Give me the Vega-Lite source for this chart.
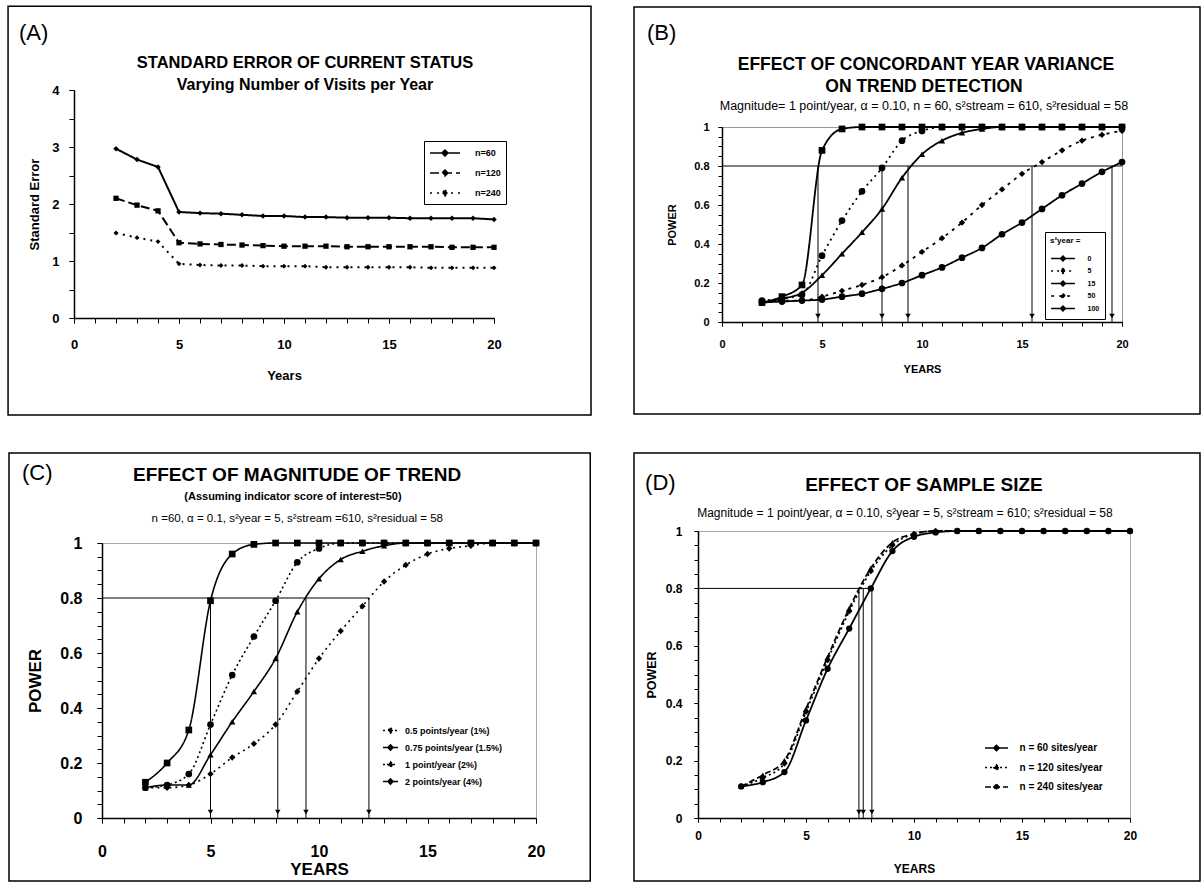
{
"$schema":"https://vega.github.io/schema/vega-lite/v6.json",
"background":"white",
"padding":{"left":6,"top":4,"right":0,"bottom":0},
"config":{"font":"Liberation Sans","view":{"stroke":null},
 "axis":{"domainColor":"black","domainWidth":1.5,"tickColor":"black","tickWidth":1,"labelColor":"black","titleColor":"black","grid":false,"labelFontWeight":"bold","titleFontWeight":"bold","labelFont":"Liberation Sans","titleFont":"Liberation Sans","labelFlush":false,"labelOverlap":false,"labelBound":false},
 "legend":{"labelFont":"Liberation Sans","titleFont":"Liberation Sans","labelColor":"black","titleColor":"black"},
 "text":{"color":"black","font":"Liberation Sans"}},
"datasets":{
 "one":[{"k":1}],
 "A":[
  {"year":2,"se":2.97,"series":"n=60"},{"year":3,"se":2.78,"series":"n=60"},{"year":4,"se":2.65,"series":"n=60"},{"year":5,"se":1.86,"series":"n=60"},{"year":6,"se":1.84,"series":"n=60"},{"year":7,"se":1.83,"series":"n=60"},{"year":8,"se":1.81,"series":"n=60"},{"year":9,"se":1.79,"series":"n=60"},{"year":10,"se":1.79,"series":"n=60"},{"year":11,"se":1.77,"series":"n=60"},{"year":12,"se":1.77,"series":"n=60"},{"year":13,"se":1.76,"series":"n=60"},{"year":14,"se":1.76,"series":"n=60"},{"year":15,"se":1.76,"series":"n=60"},{"year":16,"se":1.75,"series":"n=60"},{"year":17,"se":1.75,"series":"n=60"},{"year":18,"se":1.75,"series":"n=60"},{"year":19,"se":1.75,"series":"n=60"},{"year":20,"se":1.73,"series":"n=60"},
  {"year":2,"se":2.10,"series":"n=120"},{"year":3,"se":1.98,"series":"n=120"},{"year":4,"se":1.88,"series":"n=120"},{"year":5,"se":1.32,"series":"n=120"},{"year":6,"se":1.30,"series":"n=120"},{"year":7,"se":1.29,"series":"n=120"},{"year":8,"se":1.28,"series":"n=120"},{"year":9,"se":1.27,"series":"n=120"},{"year":10,"se":1.26,"series":"n=120"},{"year":11,"se":1.26,"series":"n=120"},{"year":12,"se":1.26,"series":"n=120"},{"year":13,"se":1.25,"series":"n=120"},{"year":14,"se":1.25,"series":"n=120"},{"year":15,"se":1.25,"series":"n=120"},{"year":16,"se":1.25,"series":"n=120"},{"year":17,"se":1.25,"series":"n=120"},{"year":18,"se":1.24,"series":"n=120"},{"year":19,"se":1.24,"series":"n=120"},{"year":20,"se":1.24,"series":"n=120"},
  {"year":2,"se":1.49,"series":"n=240"},{"year":3,"se":1.41,"series":"n=240"},{"year":4,"se":1.34,"series":"n=240"},{"year":5,"se":0.95,"series":"n=240"},{"year":6,"se":0.93,"series":"n=240"},{"year":7,"se":0.92,"series":"n=240"},{"year":8,"se":0.92,"series":"n=240"},{"year":9,"se":0.91,"series":"n=240"},{"year":10,"se":0.91,"series":"n=240"},{"year":11,"se":0.91,"series":"n=240"},{"year":12,"se":0.89,"series":"n=240"},{"year":13,"se":0.89,"series":"n=240"},{"year":14,"se":0.89,"series":"n=240"},{"year":15,"se":0.89,"series":"n=240"},{"year":16,"se":0.89,"series":"n=240"},{"year":17,"se":0.88,"series":"n=240"},{"year":18,"se":0.88,"series":"n=240"},{"year":19,"se":0.88,"series":"n=240"},{"year":20,"se":0.88,"series":"n=240"}],
 "B":[
  {"year":2,"power":0.10,"series":"0"},{"year":3,"power":0.13,"series":"0"},{"year":4,"power":0.19,"series":"0"},{"year":5,"power":0.88,"series":"0"},{"year":6,"power":0.99,"series":"0"},{"year":7,"power":1,"series":"0"},{"year":8,"power":1,"series":"0"},{"year":9,"power":1,"series":"0"},{"year":10,"power":1,"series":"0"},{"year":11,"power":1,"series":"0"},{"year":12,"power":1,"series":"0"},{"year":13,"power":1,"series":"0"},{"year":14,"power":1,"series":"0"},{"year":15,"power":1,"series":"0"},{"year":16,"power":1,"series":"0"},{"year":17,"power":1,"series":"0"},{"year":18,"power":1,"series":"0"},{"year":19,"power":1,"series":"0"},{"year":20,"power":1,"series":"0"},
  {"year":2,"power":0.11,"series":"5"},{"year":3,"power":0.12,"series":"5"},{"year":4,"power":0.14,"series":"5"},{"year":5,"power":0.34,"series":"5"},{"year":6,"power":0.52,"series":"5"},{"year":7,"power":0.67,"series":"5"},{"year":8,"power":0.79,"series":"5"},{"year":9,"power":0.93,"series":"5"},{"year":10,"power":0.98,"series":"5"},{"year":11,"power":1,"series":"5"},{"year":12,"power":1,"series":"5"},{"year":13,"power":1,"series":"5"},{"year":14,"power":1,"series":"5"},{"year":15,"power":1,"series":"5"},{"year":16,"power":1,"series":"5"},{"year":17,"power":1,"series":"5"},{"year":18,"power":1,"series":"5"},{"year":19,"power":1,"series":"5"},{"year":20,"power":1,"series":"5"},
  {"year":2,"power":0.10,"series":"15"},{"year":3,"power":0.12,"series":"15"},{"year":4,"power":0.15,"series":"15"},{"year":5,"power":0.24,"series":"15"},{"year":6,"power":0.35,"series":"15"},{"year":7,"power":0.46,"series":"15"},{"year":8,"power":0.58,"series":"15"},{"year":9,"power":0.74,"series":"15"},{"year":10,"power":0.86,"series":"15"},{"year":11,"power":0.93,"series":"15"},{"year":12,"power":0.97,"series":"15"},{"year":13,"power":0.99,"series":"15"},{"year":14,"power":1,"series":"15"},{"year":15,"power":1,"series":"15"},{"year":16,"power":1,"series":"15"},{"year":17,"power":1,"series":"15"},{"year":18,"power":1,"series":"15"},{"year":19,"power":1,"series":"15"},{"year":20,"power":1,"series":"15"},
  {"year":2,"power":0.10,"series":"50"},{"year":3,"power":0.11,"series":"50"},{"year":4,"power":0.11,"series":"50"},{"year":5,"power":0.13,"series":"50"},{"year":6,"power":0.16,"series":"50"},{"year":7,"power":0.19,"series":"50"},{"year":8,"power":0.23,"series":"50"},{"year":9,"power":0.29,"series":"50"},{"year":10,"power":0.36,"series":"50"},{"year":11,"power":0.43,"series":"50"},{"year":12,"power":0.51,"series":"50"},{"year":13,"power":0.60,"series":"50"},{"year":14,"power":0.68,"series":"50"},{"year":15,"power":0.76,"series":"50"},{"year":16,"power":0.82,"series":"50"},{"year":17,"power":0.88,"series":"50"},{"year":18,"power":0.93,"series":"50"},{"year":19,"power":0.96,"series":"50"},{"year":20,"power":0.98,"series":"50"},
  {"year":2,"power":0.10,"series":"100"},{"year":3,"power":0.105,"series":"100"},{"year":4,"power":0.11,"series":"100"},{"year":5,"power":0.115,"series":"100"},{"year":6,"power":0.13,"series":"100"},{"year":7,"power":0.145,"series":"100"},{"year":8,"power":0.17,"series":"100"},{"year":9,"power":0.20,"series":"100"},{"year":10,"power":0.24,"series":"100"},{"year":11,"power":0.28,"series":"100"},{"year":12,"power":0.33,"series":"100"},{"year":13,"power":0.38,"series":"100"},{"year":14,"power":0.45,"series":"100"},{"year":15,"power":0.51,"series":"100"},{"year":16,"power":0.58,"series":"100"},{"year":17,"power":0.65,"series":"100"},{"year":18,"power":0.71,"series":"100"},{"year":19,"power":0.77,"series":"100"},{"year":20,"power":0.82,"series":"100"}],
 "C":[
  {"year":2,"power":0.11,"series":"0.5 points/year (1%)"},{"year":3,"power":0.11,"series":"0.5 points/year (1%)"},{"year":4,"power":0.12,"series":"0.5 points/year (1%)"},{"year":5,"power":0.16,"series":"0.5 points/year (1%)"},{"year":6,"power":0.22,"series":"0.5 points/year (1%)"},{"year":7,"power":0.27,"series":"0.5 points/year (1%)"},{"year":8,"power":0.34,"series":"0.5 points/year (1%)"},{"year":9,"power":0.46,"series":"0.5 points/year (1%)"},{"year":10,"power":0.58,"series":"0.5 points/year (1%)"},{"year":11,"power":0.68,"series":"0.5 points/year (1%)"},{"year":12,"power":0.77,"series":"0.5 points/year (1%)"},{"year":13,"power":0.86,"series":"0.5 points/year (1%)"},{"year":14,"power":0.92,"series":"0.5 points/year (1%)"},{"year":15,"power":0.96,"series":"0.5 points/year (1%)"},{"year":16,"power":0.98,"series":"0.5 points/year (1%)"},{"year":17,"power":0.99,"series":"0.5 points/year (1%)"},{"year":18,"power":1,"series":"0.5 points/year (1%)"},{"year":19,"power":1,"series":"0.5 points/year (1%)"},{"year":20,"power":1,"series":"0.5 points/year (1%)"},
  {"year":2,"power":0.11,"series":"0.75 points/year (1.5%)"},{"year":3,"power":0.12,"series":"0.75 points/year (1.5%)"},{"year":4,"power":0.12,"series":"0.75 points/year (1.5%)"},{"year":5,"power":0.23,"series":"0.75 points/year (1.5%)"},{"year":6,"power":0.35,"series":"0.75 points/year (1.5%)"},{"year":7,"power":0.46,"series":"0.75 points/year (1.5%)"},{"year":8,"power":0.58,"series":"0.75 points/year (1.5%)"},{"year":9,"power":0.75,"series":"0.75 points/year (1.5%)"},{"year":10,"power":0.87,"series":"0.75 points/year (1.5%)"},{"year":11,"power":0.94,"series":"0.75 points/year (1.5%)"},{"year":12,"power":0.97,"series":"0.75 points/year (1.5%)"},{"year":13,"power":0.99,"series":"0.75 points/year (1.5%)"},{"year":14,"power":1,"series":"0.75 points/year (1.5%)"},{"year":15,"power":1,"series":"0.75 points/year (1.5%)"},{"year":16,"power":1,"series":"0.75 points/year (1.5%)"},{"year":17,"power":1,"series":"0.75 points/year (1.5%)"},{"year":18,"power":1,"series":"0.75 points/year (1.5%)"},{"year":19,"power":1,"series":"0.75 points/year (1.5%)"},{"year":20,"power":1,"series":"0.75 points/year (1.5%)"},
  {"year":2,"power":0.11,"series":"1 point/year (2%)"},{"year":3,"power":0.12,"series":"1 point/year (2%)"},{"year":4,"power":0.16,"series":"1 point/year (2%)"},{"year":5,"power":0.34,"series":"1 point/year (2%)"},{"year":6,"power":0.52,"series":"1 point/year (2%)"},{"year":7,"power":0.66,"series":"1 point/year (2%)"},{"year":8,"power":0.79,"series":"1 point/year (2%)"},{"year":9,"power":0.93,"series":"1 point/year (2%)"},{"year":10,"power":0.98,"series":"1 point/year (2%)"},{"year":11,"power":1,"series":"1 point/year (2%)"},{"year":12,"power":1,"series":"1 point/year (2%)"},{"year":13,"power":1,"series":"1 point/year (2%)"},{"year":14,"power":1,"series":"1 point/year (2%)"},{"year":15,"power":1,"series":"1 point/year (2%)"},{"year":16,"power":1,"series":"1 point/year (2%)"},{"year":17,"power":1,"series":"1 point/year (2%)"},{"year":18,"power":1,"series":"1 point/year (2%)"},{"year":19,"power":1,"series":"1 point/year (2%)"},{"year":20,"power":1,"series":"1 point/year (2%)"},
  {"year":2,"power":0.13,"series":"2 points/year (4%)"},{"year":3,"power":0.20,"series":"2 points/year (4%)"},{"year":4,"power":0.32,"series":"2 points/year (4%)"},{"year":5,"power":0.79,"series":"2 points/year (4%)"},{"year":6,"power":0.96,"series":"2 points/year (4%)"},{"year":7,"power":0.995,"series":"2 points/year (4%)"},{"year":8,"power":1,"series":"2 points/year (4%)"},{"year":9,"power":1,"series":"2 points/year (4%)"},{"year":10,"power":1,"series":"2 points/year (4%)"},{"year":11,"power":1,"series":"2 points/year (4%)"},{"year":12,"power":1,"series":"2 points/year (4%)"},{"year":13,"power":1,"series":"2 points/year (4%)"},{"year":14,"power":1,"series":"2 points/year (4%)"},{"year":15,"power":1,"series":"2 points/year (4%)"},{"year":16,"power":1,"series":"2 points/year (4%)"},{"year":17,"power":1,"series":"2 points/year (4%)"},{"year":18,"power":1,"series":"2 points/year (4%)"},{"year":19,"power":1,"series":"2 points/year (4%)"},{"year":20,"power":1,"series":"2 points/year (4%)"}],
 "D":[
  {"year":2,"power":0.11,"series":"n = 60 sites/year"},{"year":3,"power":0.125,"series":"n = 60 sites/year"},{"year":4,"power":0.16,"series":"n = 60 sites/year"},{"year":5,"power":0.34,"series":"n = 60 sites/year"},{"year":6,"power":0.52,"series":"n = 60 sites/year"},{"year":7,"power":0.66,"series":"n = 60 sites/year"},{"year":8,"power":0.80,"series":"n = 60 sites/year"},{"year":9,"power":0.93,"series":"n = 60 sites/year"},{"year":10,"power":0.98,"series":"n = 60 sites/year"},{"year":11,"power":0.995,"series":"n = 60 sites/year"},{"year":12,"power":1,"series":"n = 60 sites/year"},{"year":13,"power":1,"series":"n = 60 sites/year"},{"year":14,"power":1,"series":"n = 60 sites/year"},{"year":15,"power":1,"series":"n = 60 sites/year"},{"year":16,"power":1,"series":"n = 60 sites/year"},{"year":17,"power":1,"series":"n = 60 sites/year"},{"year":18,"power":1,"series":"n = 60 sites/year"},{"year":19,"power":1,"series":"n = 60 sites/year"},{"year":20,"power":1,"series":"n = 60 sites/year"},
  {"year":2,"power":0.11,"series":"n = 120 sites/year"},{"year":3,"power":0.14,"series":"n = 120 sites/year"},{"year":4,"power":0.19,"series":"n = 120 sites/year"},{"year":5,"power":0.37,"series":"n = 120 sites/year"},{"year":6,"power":0.55,"series":"n = 120 sites/year"},{"year":7,"power":0.72,"series":"n = 120 sites/year"},{"year":8,"power":0.86,"series":"n = 120 sites/year"},{"year":9,"power":0.95,"series":"n = 120 sites/year"},{"year":10,"power":0.99,"series":"n = 120 sites/year"},{"year":11,"power":1,"series":"n = 120 sites/year"},{"year":12,"power":1,"series":"n = 120 sites/year"},{"year":13,"power":1,"series":"n = 120 sites/year"},{"year":14,"power":1,"series":"n = 120 sites/year"},{"year":15,"power":1,"series":"n = 120 sites/year"},{"year":16,"power":1,"series":"n = 120 sites/year"},{"year":17,"power":1,"series":"n = 120 sites/year"},{"year":18,"power":1,"series":"n = 120 sites/year"},{"year":19,"power":1,"series":"n = 120 sites/year"},{"year":20,"power":1,"series":"n = 120 sites/year"},
  {"year":2,"power":0.11,"series":"n = 240 sites/year"},{"year":3,"power":0.15,"series":"n = 240 sites/year"},{"year":4,"power":0.20,"series":"n = 240 sites/year"},{"year":5,"power":0.38,"series":"n = 240 sites/year"},{"year":6,"power":0.56,"series":"n = 240 sites/year"},{"year":7,"power":0.73,"series":"n = 240 sites/year"},{"year":8,"power":0.87,"series":"n = 240 sites/year"},{"year":9,"power":0.96,"series":"n = 240 sites/year"},{"year":10,"power":0.99,"series":"n = 240 sites/year"},{"year":11,"power":1,"series":"n = 240 sites/year"},{"year":12,"power":1,"series":"n = 240 sites/year"},{"year":13,"power":1,"series":"n = 240 sites/year"},{"year":14,"power":1,"series":"n = 240 sites/year"},{"year":15,"power":1,"series":"n = 240 sites/year"},{"year":16,"power":1,"series":"n = 240 sites/year"},{"year":17,"power":1,"series":"n = 240 sites/year"},{"year":18,"power":1,"series":"n = 240 sites/year"},{"year":19,"power":1,"series":"n = 240 sites/year"},{"year":20,"power":1,"series":"n = 240 sites/year"}],
 "Barrows":[{"year":4.8,"power":0.8,"base":0},{"year":8.0,"power":0.8,"base":0},{"year":9.3,"power":0.8,"base":0},{"year":15.5,"power":0.8,"base":0},{"year":19.5,"power":0.8,"base":0}],
 "Bline":[{"from":0,"to":20,"power":0.8}],
 "Carrows":[{"year":5.0,"power":0.8,"base":0},{"year":8.1,"power":0.8,"base":0},{"year":9.4,"power":0.8,"base":0},{"year":12.3,"power":0.8,"base":0}],
 "Cline":[{"from":0,"to":12.3,"power":0.8}],
 "Darrows":[{"year":7.45,"power":0.8,"base":0},{"year":7.65,"power":0.8,"base":0},{"year":8.05,"power":0.8,"base":0}],
 "Dline":[{"from":0,"to":8.05,"power":0.8}]
},
"resolve":{"scale":{"x":"independent","y":"independent","strokeDash":"independent"},"legend":{"strokeDash":"independent"}},
"spacing":34,
"vconcat":[
{"spacing":0,
 "resolve":{"scale":{"x":"independent","y":"independent","strokeDash":"independent"},"legend":{"strokeDash":"independent"}},
 "hconcat":[
 {"width":1,"height":1,"data":{"name":"one"},"mark":{"type":"point","opacity":0,"size":1},"encoding":{}},
 {"spacing":40,
  "resolve":{"scale":{"x":"independent","y":"independent","strokeDash":"independent"},"legend":{"strokeDash":"independent"}},
  "hconcat":[
  {"spacing":0,"resolve":{"scale":{"x":"independent","y":"independent","strokeDash":"independent"},"legend":{"strokeDash":"independent"}},"vconcat":[
   {"width":1,"height":1,"data":{"name":"one"},"mark":{"type":"point","opacity":0,"size":1},"encoding":{}},
   {"width":420,"height":228,
    "resolve":{"axis":{"x":"independent","y":"independent"}},
    "layer":[
     {"data":{"name":"one"},"mark":{"type":"rect","filled":false,"color":"black","strokeWidth":1.5},
      "encoding":{"x":{"datum":-3.14,"type":"quantitative","scale":{"domain":[0,20],"nice":false},"axis":null},"x2":{"datum":24.62},"y":{"datum":5.47,"type":"quantitative","scale":{"domain":[0,4],"nice":false},"axis":null},"y2":{"datum":-1.70}}},
     {"data":{"name":"one"},"mark":{"type":"text","text":"(A)","align":"left","baseline":"middle","fontSize":22},
      "encoding":{"x":{"datum":-2.62,"type":"quantitative","scale":{"domain":[0,20],"nice":false},"axis":null},"y":{"datum":5.0,"type":"quantitative","scale":{"domain":[0,4],"nice":false},"axis":null}}},
     {"data":{"name":"one"},"mark":{"type":"text","text":"STANDARD ERROR OF CURRENT STATUS","align":"center","baseline":"middle","fontSize":16.5,"fontWeight":"bold"},
      "encoding":{"x":{"datum":11.0,"type":"quantitative","scale":{"domain":[0,20],"nice":false},"axis":null},"y":{"datum":4.474,"type":"quantitative","scale":{"domain":[0,4],"nice":false},"axis":null}}},
     {"data":{"name":"one"},"mark":{"type":"text","text":"Varying Number of Visits per Year","align":"center","baseline":"middle","fontSize":16,"fontWeight":"bold"},
      "encoding":{"x":{"datum":11.0,"type":"quantitative","scale":{"domain":[0,20],"nice":false},"axis":null},"y":{"datum":4.096,"type":"quantitative","scale":{"domain":[0,4],"nice":false},"axis":null}}},
     {"data":{"name":"A"},"mark":{"type":"line","color":"black","strokeWidth":2},
      "encoding":{
       "x":{"field":"year","type":"quantitative","scale":{"domain":[0,20],"nice":false},"axis":{"orient":"bottom","title":"Years","values":[0,5,10,15,20],"format":"d","tickSize":5,"labelPadding":15,"labelFontSize":13,"titleFontSize":13,"titlePadding":18}},
       "y":{"field":"se","type":"quantitative","scale":{"domain":[0,4],"nice":false},"axis":{"orient":"left","title":"Standard Error","values":[0,1,2,3,4],"format":"d","tickSize":5,"labelPadding":10,"labelFontSize":13,"titleFontSize":13,"titlePadding":10}},
       "strokeDash":{"field":"series","type":"nominal","scale":{"domain":["n=60","n=120","n=240"],"range":[[1,0],[9,4],[2,5]]},
        "legend":{"orient":"none","legendX":350,"legendY":51,"title":null,"strokeColor":"black","fillColor":"white","padding":5,"symbolType":"M-2.5,0L2.5,0M0,-0.5L0.5,0L0,0.5L-0.5,0Z","symbolSize":144,"symbolOffset":9,"labelOffset":23,"symbolStrokeWidth":1.5,"symbolStrokeColor":"black","symbolFillColor":"black","labelFontSize":9,"labelFontWeight":"bold","rowPadding":7}}}},
     {"data":{"name":"A"},"transform":[{"filter":"datum.series === 'n=60'"}],"mark":{"type":"point","shape":"diamond","filled":true,"color":"black","size":30,"opacity":1},
      "encoding":{"x":{"field":"year","type":"quantitative","scale":{"domain":[0,20],"nice":false},"axis":{"orient":"bottom","values":[0,1,2,3,4,5,6,7,8,9,10,11,12,13,14,15,16,17,18,19,20],"labels":false,"domain":false,"title":null,"tickSize":5}},
       "y":{"field":"se","type":"quantitative","scale":{"domain":[0,4],"nice":false},"axis":{"orient":"left","values":[0,0.5,1,1.5,2,2.5,3,3.5,4],"labels":false,"domain":false,"title":null,"tickSize":5}}}},
     {"data":{"name":"A"},"transform":[{"filter":"datum.series === 'n=120'"}],"mark":{"type":"point","shape":"square","filled":true,"color":"black","size":28,"opacity":1},
      "encoding":{"x":{"field":"year","type":"quantitative","scale":{"domain":[0,20],"nice":false},"axis":null},"y":{"field":"se","type":"quantitative","scale":{"domain":[0,4],"nice":false},"axis":null}}},
     {"data":{"name":"A"},"transform":[{"filter":"datum.series === 'n=240'"}],"mark":{"type":"point","shape":"diamond","filled":true,"color":"black","size":24,"opacity":1},
      "encoding":{"x":{"field":"year","type":"quantitative","scale":{"domain":[0,20],"nice":false},"axis":null},"y":{"field":"se","type":"quantitative","scale":{"domain":[0,4],"nice":false},"axis":null}}}
    ]}]},
  {"spacing":0,"resolve":{"scale":{"x":"independent","y":"independent","strokeDash":"independent"},"legend":{"strokeDash":"independent"}},"vconcat":[
   {"width":1,"height":1,"data":{"name":"one"},"mark":{"type":"point","opacity":0,"size":1},"encoding":{}},
   {"width":400,"height":195,"view":{"stroke":"#999","strokeWidth":1},
    "resolve":{"axis":{"x":"independent","y":"independent"}},
    "layer":[
     {"data":{"name":"one"},"mark":{"type":"rect","filled":false,"color":"black","strokeWidth":1.5},
      "encoding":{"x":{"datum":-4.4,"type":"quantitative","scale":{"domain":[0,20],"nice":false},"axis":null},"x2":{"datum":23.9},"y":{"datum":1.615,"type":"quantitative","scale":{"domain":[0,1],"nice":false},"axis":null},"y2":{"datum":-0.472}}},
     {"data":{"name":"one"},"mark":{"type":"text","text":"(B)","align":"left","baseline":"middle","fontSize":22},
      "encoding":{"x":{"datum":-3.75,"type":"quantitative","scale":{"domain":[0,20],"nice":false},"axis":null},"y":{"datum":1.482,"type":"quantitative","scale":{"domain":[0,1],"nice":false},"axis":null}}},
     {"data":{"name":"one"},"mark":{"type":"text","text":"EFFECT OF CONCORDANT YEAR VARIANCE","align":"center","baseline":"middle","fontSize":17.5,"fontWeight":"bold"},
      "encoding":{"x":{"datum":10.2,"type":"quantitative","scale":{"domain":[0,20],"nice":false},"axis":null},"y":{"datum":1.318,"type":"quantitative","scale":{"domain":[0,1],"nice":false},"axis":null}}},
     {"data":{"name":"one"},"mark":{"type":"text","text":"ON TREND DETECTION","align":"center","baseline":"middle","fontSize":17.5,"fontWeight":"bold"},
      "encoding":{"x":{"datum":10.1,"type":"quantitative","scale":{"domain":[0,20],"nice":false},"axis":null},"y":{"datum":1.205,"type":"quantitative","scale":{"domain":[0,1],"nice":false},"axis":null}}},
     {"data":{"name":"one"},"mark":{"type":"text","text":"Magnitude= 1 point/year, α = 0.10, n = 60, s²stream = 610, s²residual = 58","align":"center","baseline":"middle","fontSize":12.5},
      "encoding":{"x":{"datum":10.1,"type":"quantitative","scale":{"domain":[0,20],"nice":false},"axis":null},"y":{"datum":1.108,"type":"quantitative","scale":{"domain":[0,1],"nice":false},"axis":null}}},
     {"data":{"name":"Bline"},"mark":{"type":"rule","color":"black","strokeWidth":1},
      "encoding":{"x":{"field":"from","type":"quantitative","scale":{"domain":[0,20],"nice":false},"axis":null},"x2":{"field":"to"},"y":{"field":"power","type":"quantitative","scale":{"domain":[0,1],"nice":false},"axis":null}}},
     {"data":{"name":"Barrows"},"mark":{"type":"rule","color":"black","strokeWidth":1},
      "encoding":{"x":{"field":"year","type":"quantitative","scale":{"domain":[0,20],"nice":false},"axis":null},"y":{"field":"power","type":"quantitative","scale":{"domain":[0,1],"nice":false},"axis":null},"y2":{"field":"base"}}},
     {"data":{"name":"Barrows"},"mark":{"type":"point","shape":"triangle-down","filled":true,"color":"black","size":30,"yOffset":-6,"opacity":1},
      "encoding":{"x":{"field":"year","type":"quantitative","scale":{"domain":[0,20],"nice":false},"axis":null},"y":{"field":"base","type":"quantitative","scale":{"domain":[0,1],"nice":false},"axis":null}}},
     {"data":{"name":"B"},"mark":{"type":"line","color":"black","strokeWidth":1.8,"interpolate":"monotone"},
      "encoding":{
       "x":{"field":"year","type":"quantitative","scale":{"domain":[0,20],"nice":false},"axis":{"orient":"bottom","title":"YEARS","values":[0,5,10,15,20],"format":"d","tickSize":4,"labelPadding":12,"labelFontSize":11,"titleFontSize":11,"titlePadding":14}},
       "y":{"field":"power","type":"quantitative","scale":{"domain":[0,1],"nice":false},"axis":{"orient":"left","title":"POWER","values":[0,0.2,0.4,0.6,0.8,1],"format":"~g","tickSize":4,"labelPadding":9,"labelFontSize":11,"titleFontSize":11,"titlePadding":16}},
       "strokeDash":{"field":"series","type":"nominal","scale":{"domain":["0","5","15","50","100"],"range":[[1,0],[2,4],[1,0],[3,5],[1,0]]},
        "legend":{"orient":"none","legendX":323,"legendY":105,"title":"s²year =","titleFontSize":8,"titleFontWeight":"bold","titlePadding":9,"strokeColor":"black","fillColor":"white","padding":5,"symbolType":"M-3.4,0L3.4,0M0,-0.7L0.7,0L0,0.7L-0.7,0Z","symbolSize":49,"symbolOffset":8.5,"labelOffset":20,"symbolStrokeWidth":1.5,"symbolStrokeColor":"black","symbolFillColor":"black","labelFontSize":7,"labelFontWeight":"bold","rowPadding":1.5}}}},
     {"data":{"name":"B"},"transform":[{"filter":"datum.series === '0'"}],"mark":{"type":"point","shape":"square","filled":true,"color":"black","size":45,"opacity":1},
      "encoding":{"x":{"field":"year","type":"quantitative","scale":{"domain":[0,20],"nice":false},"axis":{"orient":"bottom","values":[0,1,2,3,4,5,6,7,8,9,10,11,12,13,14,15,16,17,18,19,20],"labels":false,"domain":false,"title":null,"tickSize":4}},
       "y":{"field":"power","type":"quantitative","scale":{"domain":[0,1],"nice":false},"axis":{"orient":"left","values":[0,0.05,0.1,0.15,0.2,0.25,0.3,0.35,0.4,0.45,0.5,0.55,0.6,0.65,0.7,0.75,0.8,0.85,0.9,0.95,1],"labels":false,"domain":false,"title":null,"tickSize":4}}}},
     {"data":{"name":"B"},"transform":[{"filter":"datum.series === '5'"}],"mark":{"type":"point","shape":"circle","filled":true,"color":"black","size":45,"opacity":1},
      "encoding":{"x":{"field":"year","type":"quantitative","scale":{"domain":[0,20],"nice":false},"axis":null},"y":{"field":"power","type":"quantitative","scale":{"domain":[0,1],"nice":false},"axis":null}}},
     {"data":{"name":"B"},"transform":[{"filter":"datum.series === '15'"}],"mark":{"type":"point","shape":"triangle-up","filled":true,"color":"black","size":40,"opacity":1},
      "encoding":{"x":{"field":"year","type":"quantitative","scale":{"domain":[0,20],"nice":false},"axis":null},"y":{"field":"power","type":"quantitative","scale":{"domain":[0,1],"nice":false},"axis":null}}},
     {"data":{"name":"B"},"transform":[{"filter":"datum.series === '50'"}],"mark":{"type":"point","shape":"diamond","filled":true,"color":"black","size":40,"opacity":1},
      "encoding":{"x":{"field":"year","type":"quantitative","scale":{"domain":[0,20],"nice":false},"axis":null},"y":{"field":"power","type":"quantitative","scale":{"domain":[0,1],"nice":false},"axis":null}}},
     {"data":{"name":"B"},"transform":[{"filter":"datum.series === '100'"}],"mark":{"type":"point","shape":"circle","filled":true,"color":"black","size":45,"opacity":1},
      "encoding":{"x":{"field":"year","type":"quantitative","scale":{"domain":[0,20],"nice":false},"axis":null},"y":{"field":"power","type":"quantitative","scale":{"domain":[0,1],"nice":false},"axis":null}}}
    ]}]}
  ]}
 ]},
{"spacing":0,
 "resolve":{"scale":{"x":"independent","y":"independent","strokeDash":"independent"},"legend":{"strokeDash":"independent"}},
 "hconcat":[
 {"width":1,"height":1,"data":{"name":"one"},"mark":{"type":"point","opacity":0,"size":1},"encoding":{}},
 {"spacing":40,
  "resolve":{"scale":{"x":"independent","y":"independent","strokeDash":"independent"},"legend":{"strokeDash":"independent"}},
  "hconcat":[
  {"spacing":0,"resolve":{"scale":{"x":"independent","y":"independent","strokeDash":"independent"},"legend":{"strokeDash":"independent"}},"vconcat":[
   {"width":1,"height":1,"data":{"name":"one"},"mark":{"type":"point","opacity":0,"size":1},"encoding":{}},
   {"width":434,"height":275,"view":{"stroke":"#aaa","strokeWidth":1},
    "resolve":{"axis":{"x":"independent","y":"independent"}},
    "layer":[
     {"data":{"name":"one"},"mark":{"type":"rect","filled":false,"color":"black","strokeWidth":1.5},
      "encoding":{"x":{"datum":-4.286,"type":"quantitative","scale":{"domain":[0,20],"nice":false},"axis":null},"x2":{"datum":22.5},"y":{"datum":1.327,"type":"quantitative","scale":{"domain":[0,1],"nice":false},"axis":null},"y2":{"datum":-0.229}}},
     {"data":{"name":"one"},"mark":{"type":"text","text":"(C)","align":"left","baseline":"middle","fontSize":22},
      "encoding":{"x":{"datum":-3.69,"type":"quantitative","scale":{"domain":[0,20],"nice":false},"axis":null},"y":{"datum":1.2545,"type":"quantitative","scale":{"domain":[0,1],"nice":false},"axis":null}}},
     {"data":{"name":"one"},"mark":{"type":"text","text":"EFFECT OF MAGNITUDE OF TREND","align":"center","baseline":"middle","fontSize":19,"fontWeight":"bold"},
      "encoding":{"x":{"datum":8.99,"type":"quantitative","scale":{"domain":[0,20],"nice":false},"axis":null},"y":{"datum":1.247,"type":"quantitative","scale":{"domain":[0,1],"nice":false},"axis":null}}},
     {"data":{"name":"one"},"mark":{"type":"text","text":"(Assuming indicator score of interest=50)","align":"center","baseline":"middle","fontSize":11,"fontWeight":"bold"},
      "encoding":{"x":{"datum":8.8,"type":"quantitative","scale":{"domain":[0,20],"nice":false},"axis":null},"y":{"datum":1.167,"type":"quantitative","scale":{"domain":[0,1],"nice":false},"axis":null}}},
     {"data":{"name":"one"},"mark":{"type":"text","text":"n =60, α = 0.1, s²year = 5, s²stream =610, s²residual = 58","align":"center","baseline":"middle","fontSize":11.5},
      "encoding":{"x":{"datum":9.0,"type":"quantitative","scale":{"domain":[0,20],"nice":false},"axis":null},"y":{"datum":1.087,"type":"quantitative","scale":{"domain":[0,1],"nice":false},"axis":null}}},
     {"data":{"name":"Cline"},"mark":{"type":"rule","color":"black","strokeWidth":1},
      "encoding":{"x":{"field":"from","type":"quantitative","scale":{"domain":[0,20],"nice":false},"axis":null},"x2":{"field":"to"},"y":{"field":"power","type":"quantitative","scale":{"domain":[0,1],"nice":false},"axis":null}}},
     {"data":{"name":"Carrows"},"mark":{"type":"rule","color":"black","strokeWidth":1},
      "encoding":{"x":{"field":"year","type":"quantitative","scale":{"domain":[0,20],"nice":false},"axis":null},"y":{"field":"power","type":"quantitative","scale":{"domain":[0,1],"nice":false},"axis":null},"y2":{"field":"base"}}},
     {"data":{"name":"Carrows"},"mark":{"type":"point","shape":"triangle-down","filled":true,"color":"black","size":30,"yOffset":-6,"opacity":1},
      "encoding":{"x":{"field":"year","type":"quantitative","scale":{"domain":[0,20],"nice":false},"axis":null},"y":{"field":"base","type":"quantitative","scale":{"domain":[0,1],"nice":false},"axis":null}}},
     {"data":{"name":"C"},"mark":{"type":"line","color":"black","strokeWidth":1.6,"interpolate":"monotone"},
      "encoding":{
       "x":{"field":"year","type":"quantitative","scale":{"domain":[0,20],"nice":false},"axis":{"orient":"bottom","title":"YEARS","values":[0,5,10,15,20],"format":"d","tickSize":5,"labelPadding":20,"labelFontSize":16,"titleFontSize":17,"titlePadding":2}},
       "y":{"field":"power","type":"quantitative","scale":{"domain":[0,1],"nice":false},"axis":{"orient":"left","title":"POWER","values":[0,0.2,0.4,0.6,0.8,1],"format":"~g","tickSize":5,"labelPadding":15,"labelFontSize":16,"titleFontSize":17,"titlePadding":15}},
       "strokeDash":{"field":"series","type":"nominal","scale":{"domain":["0.5 points/year (1%)","0.75 points/year (1.5%)","1 point/year (2%)","2 points/year (4%)"],"range":[[2,4],[1,0],[2,3],[1,0]]},
        "legend":{"orient":"none","legendX":280,"legendY":182,"title":null,"symbolType":"M-1.67,0L1.67,0M0,-0.6L0.6,0L0,0.6L-0.6,0Z","symbolSize":81,"symbolOffset":3,"labelOffset":9,"symbolStrokeWidth":1.5,"symbolStrokeColor":"black","symbolFillColor":"black","labelFontSize":9,"labelFontWeight":"bold","rowPadding":4}}}},
     {"data":{"name":"C"},"transform":[{"filter":"datum.series === '0.5 points/year (1%)'"}],"mark":{"type":"point","shape":"diamond","filled":true,"color":"black","size":40,"opacity":1},
      "encoding":{"x":{"field":"year","type":"quantitative","scale":{"domain":[0,20],"nice":false},"axis":{"orient":"bottom","values":[0,1,2,3,4,5,6,7,8,9,10,11,12,13,14,15,16,17,18,19,20],"labels":false,"domain":false,"title":null,"tickSize":5}},
       "y":{"field":"power","type":"quantitative","scale":{"domain":[0,1],"nice":false},"axis":{"orient":"left","values":[0,0.05,0.1,0.15,0.2,0.25,0.3,0.35,0.4,0.45,0.5,0.55,0.6,0.65,0.7,0.75,0.8,0.85,0.9,0.95,1],"labels":false,"domain":false,"title":null,"tickSize":5}}}},
     {"data":{"name":"C"},"transform":[{"filter":"datum.series === '0.75 points/year (1.5%)'"}],"mark":{"type":"point","shape":"triangle-up","filled":true,"color":"black","size":40,"opacity":1},
      "encoding":{"x":{"field":"year","type":"quantitative","scale":{"domain":[0,20],"nice":false},"axis":null},"y":{"field":"power","type":"quantitative","scale":{"domain":[0,1],"nice":false},"axis":null}}},
     {"data":{"name":"C"},"transform":[{"filter":"datum.series === '1 point/year (2%)'"}],"mark":{"type":"point","shape":"circle","filled":true,"color":"black","size":45,"opacity":1},
      "encoding":{"x":{"field":"year","type":"quantitative","scale":{"domain":[0,20],"nice":false},"axis":null},"y":{"field":"power","type":"quantitative","scale":{"domain":[0,1],"nice":false},"axis":null}}},
     {"data":{"name":"C"},"transform":[{"filter":"datum.series === '2 points/year (4%)'"}],"mark":{"type":"point","shape":"square","filled":true,"color":"black","size":45,"opacity":1},
      "encoding":{"x":{"field":"year","type":"quantitative","scale":{"domain":[0,20],"nice":false},"axis":null},"y":{"field":"power","type":"quantitative","scale":{"domain":[0,1],"nice":false},"axis":null}}}
    ]}]},
  {"spacing":0,"resolve":{"scale":{"x":"independent","y":"independent","strokeDash":"independent"},"legend":{"strokeDash":"independent"}},"vconcat":[
   {"width":1,"height":1,"data":{"name":"one"},"mark":{"type":"point","opacity":0,"size":1},"encoding":{}},
   {"width":432,"height":287,"view":{"stroke":"#aaa","strokeWidth":1},
    "resolve":{"axis":{"x":"independent","y":"independent"}},
    "layer":[
     {"data":{"name":"one"},"mark":{"type":"rect","filled":false,"color":"black","strokeWidth":1.5},
      "encoding":{"x":{"datum":-2.963,"type":"quantitative","scale":{"domain":[0,20],"nice":false},"axis":null},"x2":{"datum":23.24},"y":{"datum":1.272,"type":"quantitative","scale":{"domain":[0,1],"nice":false},"axis":null},"y2":{"datum":-0.2195}}},
     {"data":{"name":"one"},"mark":{"type":"text","text":"(D)","align":"left","baseline":"middle","fontSize":22},
      "encoding":{"x":{"datum":-2.45,"type":"quantitative","scale":{"domain":[0,20],"nice":false},"axis":null},"y":{"datum":1.167,"type":"quantitative","scale":{"domain":[0,1],"nice":false},"axis":null}}},
     {"data":{"name":"one"},"mark":{"type":"text","text":"EFFECT OF SAMPLE SIZE","align":"center","baseline":"middle","fontSize":19,"fontWeight":"bold"},
      "encoding":{"x":{"datum":10.46,"type":"quantitative","scale":{"domain":[0,20],"nice":false},"axis":null},"y":{"datum":1.16,"type":"quantitative","scale":{"domain":[0,1],"nice":false},"axis":null}}},
     {"data":{"name":"one"},"mark":{"type":"text","text":"Magnitude = 1 point/year, α = 0.10, s²year = 5, s²stream = 610; s²residual = 58","align":"center","baseline":"middle","fontSize":12},
      "encoding":{"x":{"datum":9.58,"type":"quantitative","scale":{"domain":[0,20],"nice":false},"axis":null},"y":{"datum":1.063,"type":"quantitative","scale":{"domain":[0,1],"nice":false},"axis":null}}},
     {"data":{"name":"Dline"},"mark":{"type":"rule","color":"black","strokeWidth":1},
      "encoding":{"x":{"field":"from","type":"quantitative","scale":{"domain":[0,20],"nice":false},"axis":null},"x2":{"field":"to"},"y":{"field":"power","type":"quantitative","scale":{"domain":[0,1],"nice":false},"axis":null}}},
     {"data":{"name":"Darrows"},"mark":{"type":"rule","color":"black","strokeWidth":1},
      "encoding":{"x":{"field":"year","type":"quantitative","scale":{"domain":[0,20],"nice":false},"axis":null},"y":{"field":"power","type":"quantitative","scale":{"domain":[0,1],"nice":false},"axis":null},"y2":{"field":"base"}}},
     {"data":{"name":"Darrows"},"mark":{"type":"point","shape":"triangle-down","filled":true,"color":"black","size":30,"yOffset":-6,"opacity":1},
      "encoding":{"x":{"field":"year","type":"quantitative","scale":{"domain":[0,20],"nice":false},"axis":null},"y":{"field":"base","type":"quantitative","scale":{"domain":[0,1],"nice":false},"axis":null}}},
     {"data":{"name":"D"},"mark":{"type":"line","color":"black","strokeWidth":1.8,"interpolate":"monotone"},
      "encoding":{
       "x":{"field":"year","type":"quantitative","scale":{"domain":[0,20],"nice":false},"axis":{"orient":"bottom","title":"YEARS","values":[0,5,10,15,20],"format":"d","tickSize":4,"labelPadding":8,"labelFontSize":12,"titleFontSize":12,"titlePadding":22}},
       "y":{"field":"power","type":"quantitative","scale":{"domain":[0,1],"nice":false},"axis":{"orient":"left","title":"POWER","values":[0,0.2,0.4,0.6,0.8,1],"format":"~g","tickSize":4,"labelPadding":12,"labelFontSize":12,"titleFontSize":12.5,"titlePadding":7}},
       "strokeDash":{"field":"series","type":"nominal","scale":{"domain":["n = 60 sites/year","n = 120 sites/year","n = 240 sites/year"],"range":[[1,0],[2,3],[6,3]]},
        "legend":{"orient":"none","legendX":286,"legendY":211,"title":null,"symbolType":"M-2.3,0L2.3,0M0,-0.55L0.55,0L0,0.55L-0.55,0Z","symbolSize":100,"symbolOffset":6.5,"labelOffset":17,"symbolStrokeWidth":1.5,"symbolStrokeColor":"black","symbolFillColor":"black","labelFontSize":10,"labelFontWeight":"bold","rowPadding":7.5}}}},
     {"data":{"name":"D"},"transform":[{"filter":"datum.series === 'n = 60 sites/year'"}],"mark":{"type":"point","shape":"circle","filled":true,"color":"black","size":40,"opacity":1},
      "encoding":{"x":{"field":"year","type":"quantitative","scale":{"domain":[0,20],"nice":false},"axis":{"orient":"bottom","values":[0,1,2,3,4,5,6,7,8,9,10,11,12,13,14,15,16,17,18,19,20],"labels":false,"domain":false,"title":null,"tickSize":4}},
       "y":{"field":"power","type":"quantitative","scale":{"domain":[0,1],"nice":false},"axis":{"orient":"left","values":[0,0.05,0.1,0.15,0.2,0.25,0.3,0.35,0.4,0.45,0.5,0.55,0.6,0.65,0.7,0.75,0.8,0.85,0.9,0.95,1],"labels":false,"domain":false,"title":null,"tickSize":4}}}},
     {"data":{"name":"D"},"transform":[{"filter":"datum.series === 'n = 120 sites/year'"}],"mark":{"type":"point","shape":"diamond","filled":true,"color":"black","size":40,"opacity":1},
      "encoding":{"x":{"field":"year","type":"quantitative","scale":{"domain":[0,20],"nice":false},"axis":null},"y":{"field":"power","type":"quantitative","scale":{"domain":[0,1],"nice":false},"axis":null}}},
     {"data":{"name":"D"},"transform":[{"filter":"datum.series === 'n = 240 sites/year'"}],"mark":{"type":"point","shape":"triangle-up","filled":true,"color":"black","size":35,"opacity":1},
      "encoding":{"x":{"field":"year","type":"quantitative","scale":{"domain":[0,20],"nice":false},"axis":null},"y":{"field":"power","type":"quantitative","scale":{"domain":[0,1],"nice":false},"axis":null}}}
    ]}]}
  ]}
 ]}
]
}
